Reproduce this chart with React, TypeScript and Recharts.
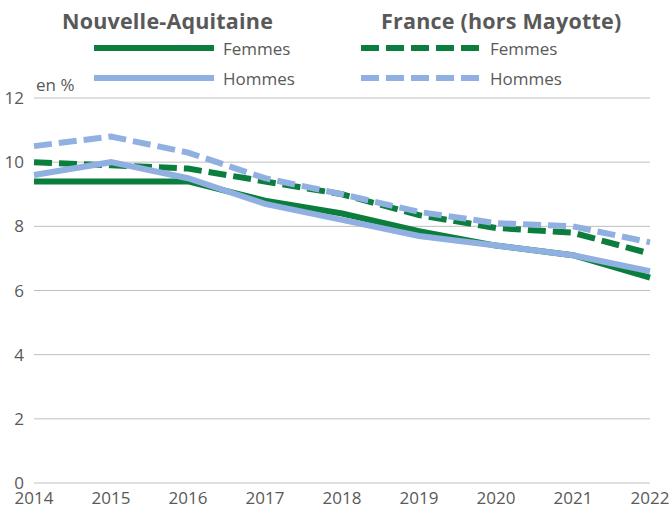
import { LineChart, Line, XAxis, YAxis, CartesianGrid } from 'recharts'

const years = ['2014', '2015', '2016', '2017', '2018', '2019', '2020', '2021', '2022']
const naFemmes = [9.4, 9.4, 9.4, 8.8, 8.4, 7.85, 7.4, 7.1, 6.4]
const naHommes = [9.6, 10.0, 9.5, 8.7, 8.2, 7.7, 7.4, 7.1, 6.6]
const frFemmes = [10.0, 9.9, 9.8, 9.4, 9.0, 8.35, 7.95, 7.8, 7.15]
const frHommes = [10.5, 10.8, 10.3, 9.5, 9.0, 8.45, 8.1, 8.0, 7.5]
const yTicks = [0, 2, 4, 6, 8, 10, 12]

const GREEN = '#0B7E3E'
const BLUE = '#8FB0E0'
const TEXT = '#595959'
const FONT = '"Open Sans", sans-serif'
const DASH = '18 7'

const data = years.map((y, i) => ({
  year: y,
  naF: naFemmes[i],
  naH: naHommes[i],
  frF: frFemmes[i],
  frH: frHommes[i],
}))

const LegendItem = ({ x, y, color, dashed, label }: any) => (
  <div style={{ position: 'absolute', left: x, top: y - 12, height: 24, display: 'flex', alignItems: 'center' }}>
    <svg width={122} height={10}>
      <line x1={0} y1={5} x2={120} y2={5} stroke={color} strokeWidth={6} strokeDasharray={dashed ? DASH : undefined} />
    </svg>
    <span style={{ marginLeft: 7, fontSize: 17, color: TEXT, fontFamily: FONT }}>{label}</span>
  </div>
)

export default function App() {
  return (
    <div style={{ position: 'absolute', left: 0, top: 0, width: 672, height: 511, background: '#fff', fontFamily: FONT }}>
      <div style={{ position: 'absolute', left: 62, top: 6, fontSize: 21.5, fontWeight: 700, color: TEXT, letterSpacing: 0.2 }}>Nouvelle-Aquitaine</div>
      <div style={{ position: 'absolute', left: 381, top: 6, fontSize: 21.5, fontWeight: 700, color: TEXT, letterSpacing: 0.2 }}>France (hors Mayotte)</div>
      <LegendItem x={94} y={48} color={GREEN} label="Femmes" />
      <LegendItem x={94} y={78} color={BLUE} label="Hommes" />
      <LegendItem x={361} y={48} color={GREEN} dashed label="Femmes" />
      <LegendItem x={361} y={78} color={BLUE} dashed label="Hommes" />
      <div style={{ position: 'absolute', left: 36, top: 73, fontSize: 17, color: TEXT }}>en %</div>
      <LineChart width={672} height={511} data={data} margin={{ top: 98, right: 22, left: 0, bottom: 0 }}>
        <CartesianGrid vertical={false} stroke="#BFBFBF" strokeWidth={1} />
        <XAxis
          dataKey="year"
          tick={{ fontSize: 17, fill: TEXT, fontFamily: FONT }}
          tickLine={false}
          axisLine={false}
          tickSize={0}
          tickMargin={9}
          height={28}
          interval={0}
        />
        <YAxis
          domain={[0, 12]}
          ticks={yTicks}
          tick={{ fontSize: 17, fill: TEXT, fontFamily: FONT }}
          tickLine={false}
          axisLine={false}
          tickSize={0}
          tickMargin={10}
          width={34}
        />
        <Line type="linear" dataKey="frF" stroke={GREEN} strokeWidth={6} strokeDasharray={DASH} dot={false} isAnimationActive={false} />
        <Line type="linear" dataKey="naF" stroke={GREEN} strokeWidth={6} dot={false} isAnimationActive={false} />
        <Line type="linear" dataKey="naH" stroke={BLUE} strokeWidth={6} dot={false} isAnimationActive={false} />
        <Line type="linear" dataKey="frH" stroke={BLUE} strokeWidth={6} strokeDasharray={DASH} dot={false} isAnimationActive={false} />
      </LineChart>
    </div>
  )
}
